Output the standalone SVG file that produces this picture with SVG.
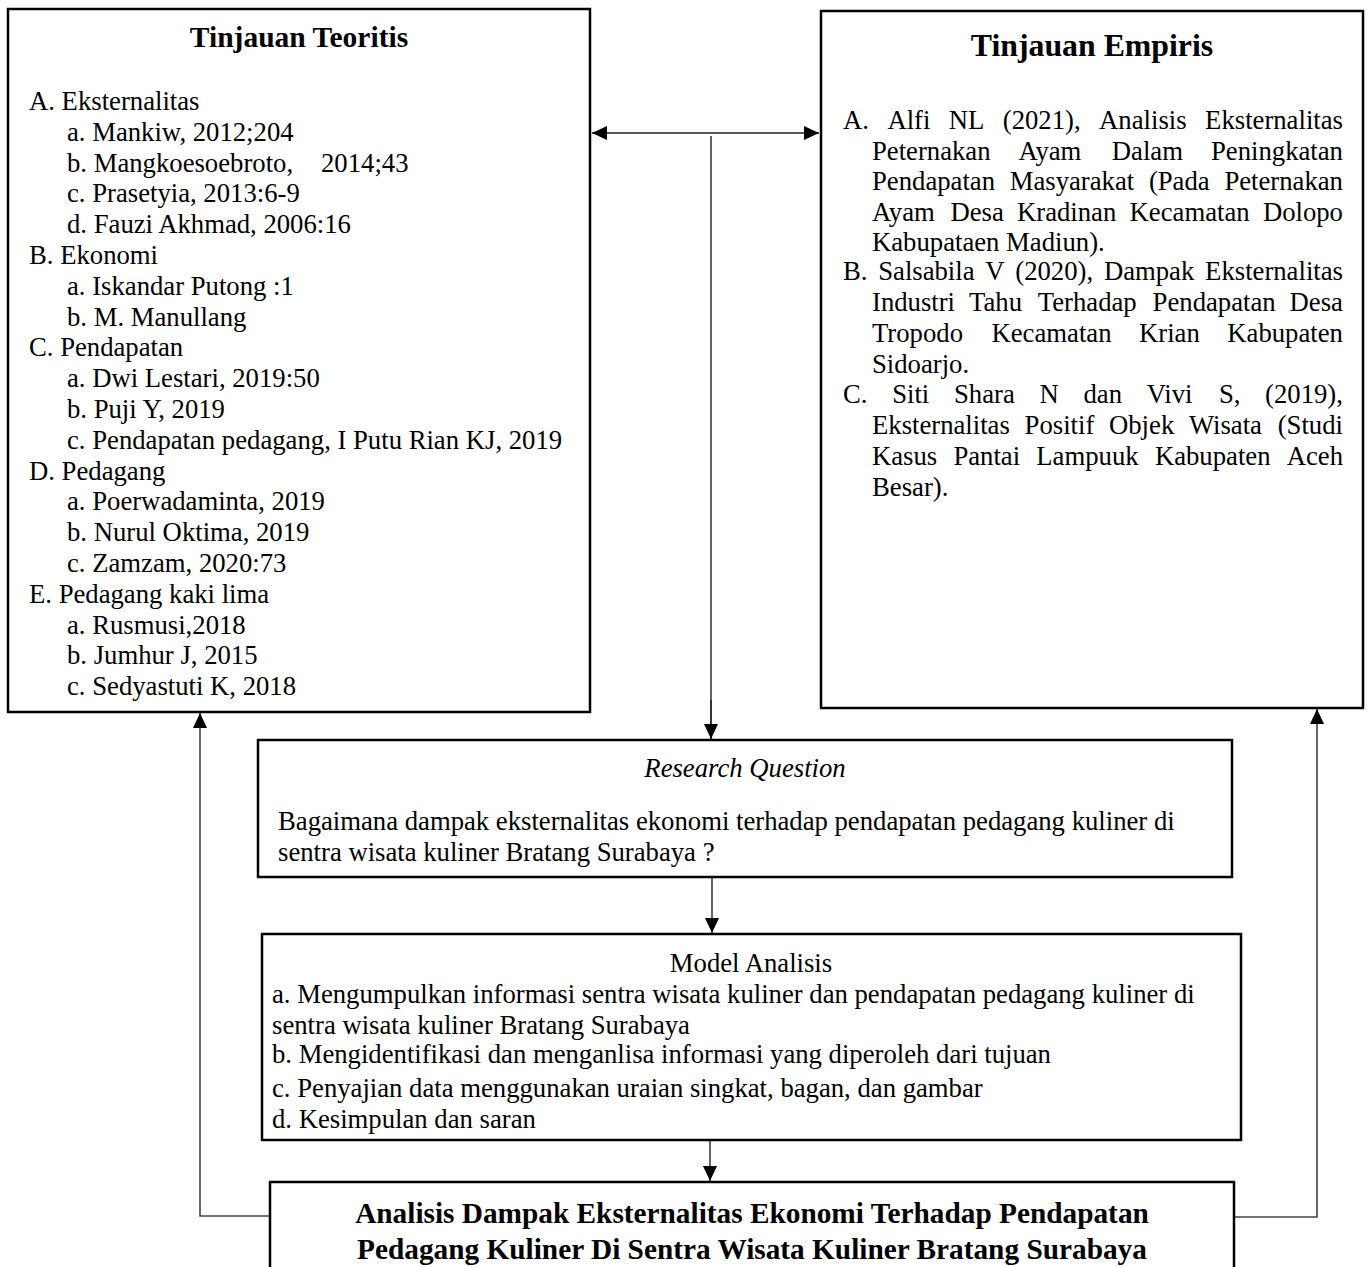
<svg xmlns="http://www.w3.org/2000/svg" width="1368" height="1267" viewBox="0 0 1368 1267">
<style>
text{font-family:"Liberation Serif","Times New Roman",serif;fill:#000;font-variant-ligatures:none}
.b{font-size:26.7px}
.box{fill:#fff;stroke:#000;stroke-width:2.5}
.con{fill:none;stroke:#222;stroke-width:1.4}
.con2{fill:none;stroke:#444;stroke-width:1.6}
.t{font-weight:bold}
</style>
<defs>
<marker id="ah" markerUnits="userSpaceOnUse" markerWidth="16" markerHeight="14" viewBox="0 0 16 14" refX="15" refY="7" orient="auto-start-reverse">
<path d="M0,0 L15,7 L0,14 z" fill="#000"/>
</marker>
</defs>
<rect width="1368" height="1267" fill="#fff"/>
<g id="connectors">
<line class="con" x1="592" y1="133" x2="819" y2="133" marker-start="url(#ah)" marker-end="url(#ah)"/>
<line class="con" x1="711" y1="136" x2="711" y2="739"/>
<path class="con" d="M711,700 L711,739" marker-end="url(#ah)"/>
<line class="con" x1="712" y1="877" x2="712" y2="933" marker-end="url(#ah)"/>
<line class="con" x1="710" y1="1141" x2="710" y2="1181" marker-end="url(#ah)"/>
<path class="con2" d="M270,1216 H200 V713" marker-end="url(#ah)"/>
<path class="con2" d="M1234,1217 H1317 V709" marker-end="url(#ah)"/>
</g>
<g id="teoritis">
<rect class="box" x="8" y="9" width="582" height="703"/>
<text x="299" y="47" text-anchor="middle" class="t" font-size="29.5">Tinjauan Teoritis</text>
<text class="b">
<tspan x="29" y="110">A. Eksternalitas</tspan>
<tspan x="67" y="140.8">a. Mankiw, 2012;204</tspan>
<tspan x="67" y="171.6">b. Mangkoesoebroto,</tspan><tspan x="321" y="171.6">2014;43</tspan>
<tspan x="67" y="202.4">c. Prasetyia, 2013:6-9</tspan>
<tspan x="67" y="233.2">d. Fauzi Akhmad, 2006:16</tspan>
<tspan x="29" y="264">B. Ekonomi</tspan>
<tspan x="67" y="294.8">a. Iskandar Putong :1</tspan>
<tspan x="67" y="325.6">b. M. Manullang</tspan>
<tspan x="29" y="356.4">C. Pendapatan</tspan>
<tspan x="67" y="387.2">a. Dwi Lestari, 2019:50</tspan>
<tspan x="67" y="418">b. Puji Y, 2019</tspan>
<tspan x="67" y="448.8">c. Pendapatan pedagang, I Putu Rian KJ, 2019</tspan>
<tspan x="29" y="479.6">D. Pedagang</tspan>
<tspan x="67" y="510.4">a. Poerwadaminta, 2019</tspan>
<tspan x="67" y="541.2">b. Nurul Oktima, 2019</tspan>
<tspan x="67" y="572">c. Zamzam, 2020:73</tspan>
<tspan x="29" y="602.8">E. Pedagang kaki lima</tspan>
<tspan x="67" y="633.6">a. Rusmusi,2018</tspan>
<tspan x="67" y="664.4">b. Jumhur J, 2015</tspan>
<tspan x="67" y="695.2">c. Sedyastuti K, 2018</tspan>
</text>
</g>
<g id="empiris">
<rect class="box" x="821" y="11" width="542" height="697"/>
<text x="1092" y="56" text-anchor="middle" class="t" font-size="31.8">Tinjauan Empiris</text>
<text class="b">
<tspan x="843" y="129">A.</tspan><tspan x="887.4" y="129">Alfi</tspan><tspan x="948.8" y="129">NL</tspan><tspan x="1002.8" y="129">(2021),</tspan><tspan x="1099.1" y="129">Analisis</tspan><tspan x="1205.1" y="129">Eksternalitas</tspan>
<tspan x="872" y="159.6">Peternakan</tspan><tspan x="1018.6" y="159.6">Ayam</tspan><tspan x="1111.8" y="159.6">Dalam</tspan><tspan x="1211" y="159.6">Peningkatan</tspan>
<tspan x="872" y="190.2">Pendapatan</tspan><tspan x="1009.7" y="190.2">Masyarakat</tspan><tspan x="1148.9" y="190.2">(Pada</tspan><tspan x="1224.4" y="190.2">Peternakan</tspan>
<tspan x="872" y="220.8">Ayam</tspan><tspan x="950.5" y="220.8">Desa</tspan><tspan x="1017" y="220.8">Kradinan</tspan><tspan x="1129.6" y="220.8">Kecamatan</tspan><tspan x="1262.9" y="220.8">Dolopo</tspan>
<tspan x="872" y="251.4">Kabupataen Madiun).</tspan>
<tspan x="843" y="280">B.</tspan><tspan x="878.2" y="280">Salsabila</tspan><tspan x="985.3" y="280">V</tspan><tspan x="1015.3" y="280">(2020),</tspan><tspan x="1103.9" y="280">Dampak</tspan><tspan x="1205.1" y="280">Eksternalitas</tspan>
<tspan x="872" y="311">Industri</tspan><tspan x="969" y="311">Tahu</tspan><tspan x="1037.8" y="311">Terhadap</tspan><tspan x="1152.6" y="311">Pendapatan</tspan><tspan x="1289.6" y="311">Desa</tspan>
<tspan x="872" y="341.8">Tropodo</tspan><tspan x="991.5" y="341.8">Kecamatan</tspan><tspan x="1139" y="341.8">Krian</tspan><tspan x="1227.3" y="341.8">Kabupaten</tspan>
<tspan x="872" y="372.6">Sidoarjo.</tspan>
<tspan x="843" y="403.4">C.</tspan><tspan x="892.2" y="403.4">Siti</tspan><tspan x="954" y="403.4">Shara</tspan><tspan x="1039.5" y="403.4">N</tspan><tspan x="1083.5" y="403.4">dan</tspan><tspan x="1146.7" y="403.4">Vivi</tspan><tspan x="1218.9" y="403.4">S,</tspan><tspan x="1265.1" y="403.4">(2019),</tspan>
<tspan x="872" y="434.2">Eksternalitas</tspan><tspan x="1024.6" y="434.2">Positif</tspan><tspan x="1109" y="434.2">Objek</tspan><tspan x="1188.9" y="434.2">Wisata</tspan><tspan x="1277.7" y="434.2">(Studi</tspan>
<tspan x="872" y="465">Kasus</tspan><tspan x="953.4" y="465">Pantai</tspan><tspan x="1036.3" y="465">Lampuuk</tspan><tspan x="1154.9" y="465">Kabupaten</tspan><tspan x="1286.7" y="465">Aceh</tspan>
<tspan x="872" y="495.8">Besar).</tspan>
</text>
</g>
<g id="research">
<rect class="box" x="258" y="740" width="974" height="137"/>
<text x="745" y="777" text-anchor="middle" class="b" font-style="italic">Research Question</text>
<text class="b">
<tspan x="278" y="830">Bagaimana dampak eksternalitas ekonomi terhadap pendapatan pedagang kuliner di</tspan>
<tspan x="278" y="861">sentra wisata kuliner Bratang Surabaya ?</tspan>
</text>
</g>
<g id="model">
<rect class="box" x="262" y="934" width="979" height="206"/>
<text x="751" y="972" text-anchor="middle" class="b">Model Analisis</text>
<text class="b">
<tspan x="272" y="1003">a. Mengumpulkan informasi sentra wisata kuliner dan pendapatan pedagang kuliner di</tspan>
<tspan x="272" y="1034">sentra wisata kuliner Bratang Surabaya</tspan>
<tspan x="272" y="1063">b. Mengidentifikasi dan menganlisa informasi yang diperoleh dari tujuan</tspan>
<tspan x="272" y="1097">c. Penyajian data menggunakan uraian singkat, bagan, dan gambar</tspan>
<tspan x="272" y="1128">d. Kesimpulan dan saran</tspan>
</text>
</g>
<g id="judul">
<rect class="box" x="270" y="1182" width="964" height="110"/>
<text x="752" y="1223" text-anchor="middle" class="t" font-size="29.3">Analisis Dampak Eksternalitas Ekonomi Terhadap Pendapatan</text>
<text x="752" y="1259" text-anchor="middle" class="t" font-size="29.3">Pedagang Kuliner Di Sentra Wisata Kuliner Bratang Surabaya</text>
</g>
</svg>
